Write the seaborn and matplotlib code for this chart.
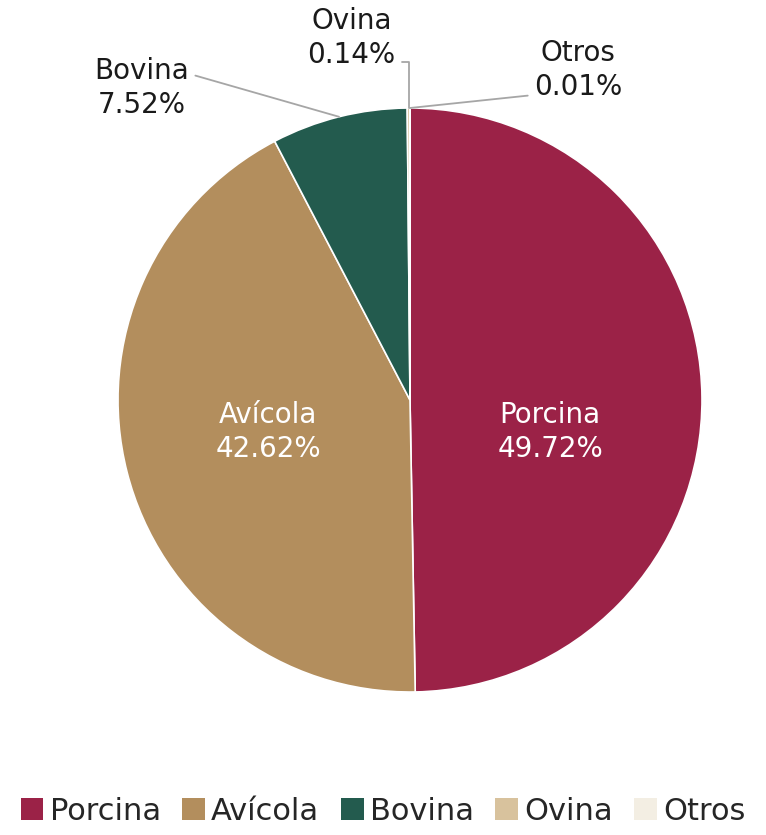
import numpy as np
import matplotlib.pyplot as plt
import seaborn as sns
from matplotlib.patches import Patch

categorias = ["Porcina", "Avícola", "Bovina", "Ovina", "Otros"]
porcentajes = [49.72, 42.62, 7.52, 0.14, 0.01]
colores = ["#9B2247", "#B38E5D", "#235B4E", "#D8C29D", "#F3EEE3"]

sns.set_theme(style="white")
plt.rcParams['font.family'] = ['DejaVu Sans']

fig = plt.figure(figsize=(7.66, 8.35), dpi=100)
ax = fig.add_axes([118 / 766, 143 / 835, 584 / 766, 584 / 835])

wedges, _ = ax.pie(porcentajes, colors=sns.color_palette(colores), startangle=90,
                   counterclock=False, radius=1,
                   wedgeprops=dict(edgecolor="white", linewidth=1.2))
ax.set_xlim(-1, 1)
ax.set_ylim(-1, 1)
ax.set_aspect("equal")

# etiquetas internas (Porcina, Avícola)
for w, cat, p in zip(wedges[:2], categorias[:2], porcentajes[:2]):
    ang = np.deg2rad((w.theta1 + w.theta2) / 2)
    ax.text(0.49 * np.cos(ang) - 0.01, -0.11, f"{cat}\n{p:.2f}%",
            ha="center", va="center", color="white", fontsize=20, linespacing=1.3)

# etiquetas externas con líneas guía
externas = {
    "Bovina": dict(xytext=(-0.918, 1.068), relpos=(1, 0.7), angB=164),
    "Ovina": dict(xytext=(-0.2, 1.24), relpos=(1, 0.12), angB=90),
    "Otros": dict(xytext=(0.575, 1.13), relpos=(0, 0.12), angB=6),
}
for w, cat, p in zip(wedges[2:], categorias[2:], porcentajes[2:]):
    ang = np.deg2rad((w.theta1 + w.theta2) / 2)
    o = externas[cat]
    ax.annotate(f"{cat}\n{p:.2f}%", xy=(np.cos(ang), np.sin(ang)), xytext=o["xytext"],
                ha="center", va="center", fontsize=20, color="#1a1a1a", linespacing=1.3,
                annotation_clip=False,
                arrowprops=dict(arrowstyle="-", color="#A6A6A6", lw=1.3,
                                relpos=o["relpos"], shrinkA=2, shrinkB=0,
                                connectionstyle=f"angle,angleA=0,angleB={o['angB']},rad=0"))

handles = [Patch(facecolor=c, edgecolor="none") for c in colores]
fig.legend(handles, categorias, loc="lower center", ncol=5, frameon=False,
           fontsize=22, bbox_to_anchor=(0.5, -0.022), handlelength=0.75, handleheight=0.75,
           handletextpad=0.2, columnspacing=0.7)

fig.savefig("out.png", dpi=100)
